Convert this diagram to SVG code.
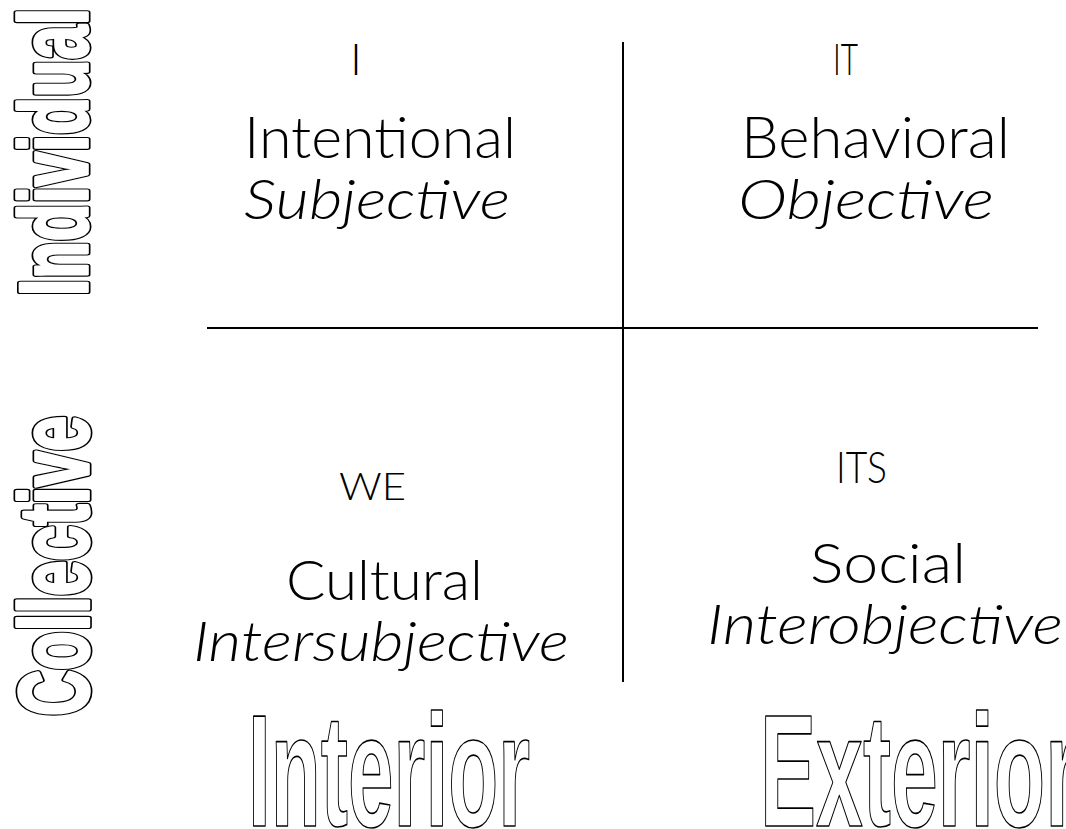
<svg xmlns="http://www.w3.org/2000/svg" xmlns:xlink="http://www.w3.org/1999/xlink" width="1066" height="829" viewBox="0 0 1066 829">
<style>
.lbl{font-family:"Lato","DejaVu Sans","Liberation Sans",sans-serif;font-weight:300;fill:#000}
.it{font-style:italic}
.out{font-family:"Liberation Sans","Arial",sans-serif;font-weight:700;stroke-linejoin:round}
.ringA{fill:#000;stroke:#000;stroke-width:7}
.ringB{fill:#fff;stroke:#fff;stroke-width:3.6}
.plain{fill:#fff;stroke:#000;stroke-width:1.7}
.ln{stroke:#000;stroke-width:2;fill:none}
</style>
<rect width="1066" height="829" fill="#fff"/>
<g id="connectors">
<line class="ln" x1="623" y1="42" x2="623" y2="682"/>
<line class="ln" x1="207" y1="328" x2="1038" y2="328"/>
</g>
<g id="q-upper-left">
<text class="lbl" x="356" y="75" font-size="44" text-anchor="middle">I</text>
<text class="lbl" x="244" y="158" font-size="58" textLength="272" lengthAdjust="spacingAndGlyphs">Intentional</text>
<text class="lbl it" x="244" y="219" font-size="56" textLength="266" lengthAdjust="spacingAndGlyphs">Subjective</text>
</g>
<g id="q-upper-right">
<text class="lbl" x="833" y="75" font-size="44" textLength="25" lengthAdjust="spacingAndGlyphs">IT</text>
<text class="lbl" x="741" y="158" font-size="58" textLength="269" lengthAdjust="spacingAndGlyphs">Behavioral</text>
<text class="lbl it" x="738" y="219" font-size="56" textLength="256" lengthAdjust="spacingAndGlyphs">Objective</text>
</g>
<g id="q-lower-left">
<text class="lbl" x="339" y="500" font-size="38" textLength="67" lengthAdjust="spacingAndGlyphs">WE</text>
<text class="lbl" x="286" y="600" font-size="56" textLength="197" lengthAdjust="spacingAndGlyphs">Cultural</text>
<text class="lbl it" x="193" y="661" font-size="56" textLength="376" lengthAdjust="spacingAndGlyphs">Intersubjective</text>
</g>
<g id="q-lower-right">
<text class="lbl" x="836" y="483" font-size="43" textLength="51" lengthAdjust="spacingAndGlyphs">ITS</text>
<text class="lbl" x="810" y="583" font-size="56" textLength="156" lengthAdjust="spacingAndGlyphs">Social</text>
<text class="lbl it" x="707" y="644" font-size="56" textLength="356" lengthAdjust="spacingAndGlyphs">Interobjective</text>
</g>
<g id="axis-individual">
<g class="ringA"><text id="tInd" class="out" transform="translate(86.5,296) rotate(-90)" x="0" y="0" font-size="97" textLength="288" lengthAdjust="spacingAndGlyphs">Individual</text></g>
<use xlink:href="#tInd" href="#tInd" class="ringB"/>
</g>
<g id="axis-collective">
<g class="ringA"><text id="tCol" class="out" transform="translate(87.5,716) rotate(-90)" x="0" y="0" font-size="98" textLength="300" lengthAdjust="spacingAndGlyphs">Collective</text></g>
<use xlink:href="#tCol" href="#tCol" class="ringB"/>
</g>
<g id="axis-interior">
<text class="out plain" x="248" y="826" font-size="159" textLength="282" lengthAdjust="spacingAndGlyphs">Interior</text>
</g>
<g id="axis-exterior">
<text class="out plain" x="760" y="826" font-size="159" textLength="318" lengthAdjust="spacingAndGlyphs">Exterior</text>
</g>
</svg>
